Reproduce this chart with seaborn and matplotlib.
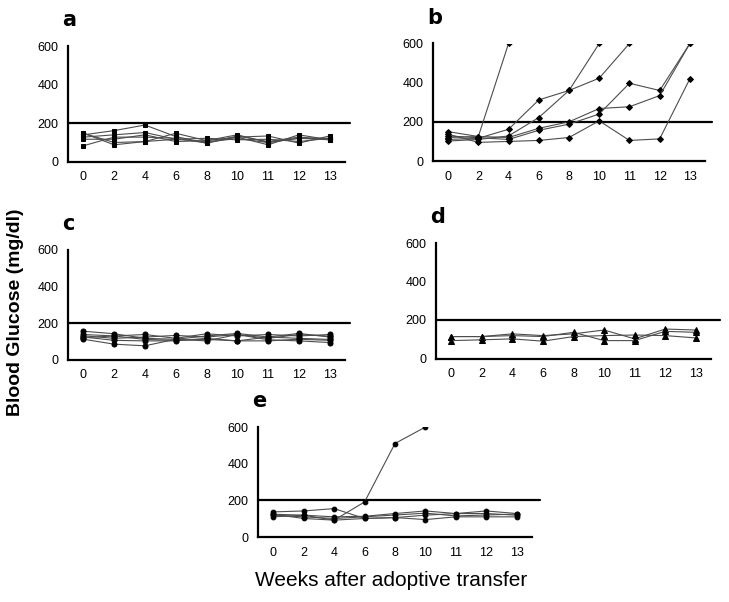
import matplotlib
matplotlib.use('Agg')
import matplotlib.pyplot as plt
import numpy as np
import pandas as pd
import seaborn as sns

WEEKS = ['0', '2', '4', '6', '8', '10', '11', '12', '13']
THRESHOLD = 200

# blood glucose per mouse, one list per mouse (shorter list = mouse removed after 600)
group_a = [
    [148, 100, 105, 148, 110, 140, 100, 122, 122],
    [140, 162, 191, 131, 97, 128, 88, 140, 114],
    [128, 140, 152, 117, 122, 114, 117, 105, 122],
    [117, 117, 140, 105, 110, 128, 134, 97, 134],
    [83, 128, 128, 122, 97, 134, 105, 128, 117],
    [148, 88, 105, 117, 104, 120, 100, 122, 114],
]
group_b = [
    [120, 125, 600],
    [110, 116, 162, 312, 360, 423, 600],
    [102, 110, 128, 222, 360, 600],
    [128, 119, 110, 157, 188, 240, 397, 360, 600],
    [150, 125, 120, 167, 200, 268, 277, 334, 600],
    [137, 95, 100, 105, 120, 205, 105, 113, 420],
]
group_c = [
    [155, 141, 116, 111, 129, 143, 123, 143, 123],
    [137, 129, 137, 116, 141, 129, 137, 129, 137],
    [123, 105, 102, 102, 116, 102, 102, 111, 105],
    [111, 84, 75, 111, 102, 137, 108, 102, 93],
    [130, 116, 123, 132, 123, 137, 116, 137, 128],
    [120, 129, 110, 105, 110, 102, 123, 116, 110],
]
group_d = [
    [114, 114, 128, 119, 128, 148, 102, 153, 148],
    [114, 114, 119, 114, 136, 93, 93, 141, 136],
    [93, 97, 102, 90, 114, 119, 122, 119, 107],
]
group_e = [
    [124, 119, 92, 191, 510, 600],
    [137, 142, 155, 101, 106, 119, 128, 142, 128],
    [110, 119, 110, 113, 128, 142, 128, 128, 119],
    [124, 101, 92, 101, 106, 95, 110, 110, 110],
    [119, 110, 101, 110, 120, 130, 115, 120, 125],
]


def to_long(group):
    rows = []
    for mouse, vals in enumerate(group):
        for i, v in enumerate(vals):
            rows.append({'mouse': mouse, 'pos': i, 'week': WEEKS[i], 'glucose': v})
    return pd.DataFrame(rows)


sns.set_style('white')
plt.rcParams['font.family'] = ['Liberation Sans', 'DejaVu Sans']
plt.rcParams['text.color'] = 'black'
plt.rcParams['xtick.color'] = 'black'
plt.rcParams['ytick.color'] = 'black'

fig = plt.figure(figsize=(7.29, 6.02), dpi=100)
W, H = 729, 602

# (label, data, marker, msize, left px, right px, top px (600), bottom px (0), line end px)
panels = [
    ('a', group_a, 's', 3.0, 68, 345, 46.5, 161.7, 350),
    ('b', group_b, 'D', 3.0, 433, 705, 43.5, 161, 712),
    ('c', group_c, 'o', 3.6, 68, 345, 250, 359.5, 350),
    ('d', group_d, '^', 4.2, 436, 711, 243, 358.5, 720),
    ('e', group_e, 'o', 3.4, 258, 532, 427, 537, 540),
]

for label, group, mk, ms, l, r, t, b, lend in panels:
    ax = fig.add_axes([l / W, 1 - b / H, (r - l) / W, (b - t) / H])
    df = to_long(group)
    sns.lineplot(data=df, x='pos', y='glucose', units='mouse', estimator=None,
                 ax=ax, color='#4d4d4d', lw=0.8, marker=mk, markersize=ms,
                 markerfacecolor='black', markeredgecolor='black', legend=False)
    ax.set_xlim(-0.5, 8.5)
    ax.set_ylim(0, 600)
    step = (r - l) / 9
    ext = (lend - r) / step
    ax.plot([-0.5, 8.5 + ext], [THRESHOLD, THRESHOLD], color='black', lw=1.6,
            clip_on=False, zorder=1)
    ax.set_xticks(range(len(WEEKS)))
    ax.set_xticklabels(WEEKS)
    ax.set_xticks(np.arange(-0.5, 9, 1), minor=True)
    ax.set_yticks([0, 200, 400, 600])
    ax.tick_params(axis='x', which='major', length=0, pad=7, labelsize=9)
    ax.tick_params(axis='x', which='minor', length=4, width=1, direction='out',
                   color='black')
    ax.tick_params(axis='y', length=0, pad=7, labelsize=9)
    ax.set_xlabel('')
    ax.set_ylabel('')
    for s in ['top', 'right']:
        ax.spines[s].set_visible(False)
    for s in ['left', 'bottom']:
        ax.spines[s].set_linewidth(1.6)
        ax.spines[s].set_color('black')
    ax.patch.set_alpha(0)
    fig.text((l - 6) / W, 1 - (t - 26) / H, label, fontsize=15, fontweight='bold',
             family='DejaVu Sans', ha='left', va='center')

fig.text(16 / W, 1 - 312 / H, 'Blood Glucose (mg/dl)', rotation=90, fontsize=14,
         fontweight='bold', ha='center', va='center')
fig.text(391 / W, 1 - 581 / H, 'Weeks after adoptive transfer', fontsize=15,
         ha='center', va='center')

fig.savefig('out.png', dpi=100)
